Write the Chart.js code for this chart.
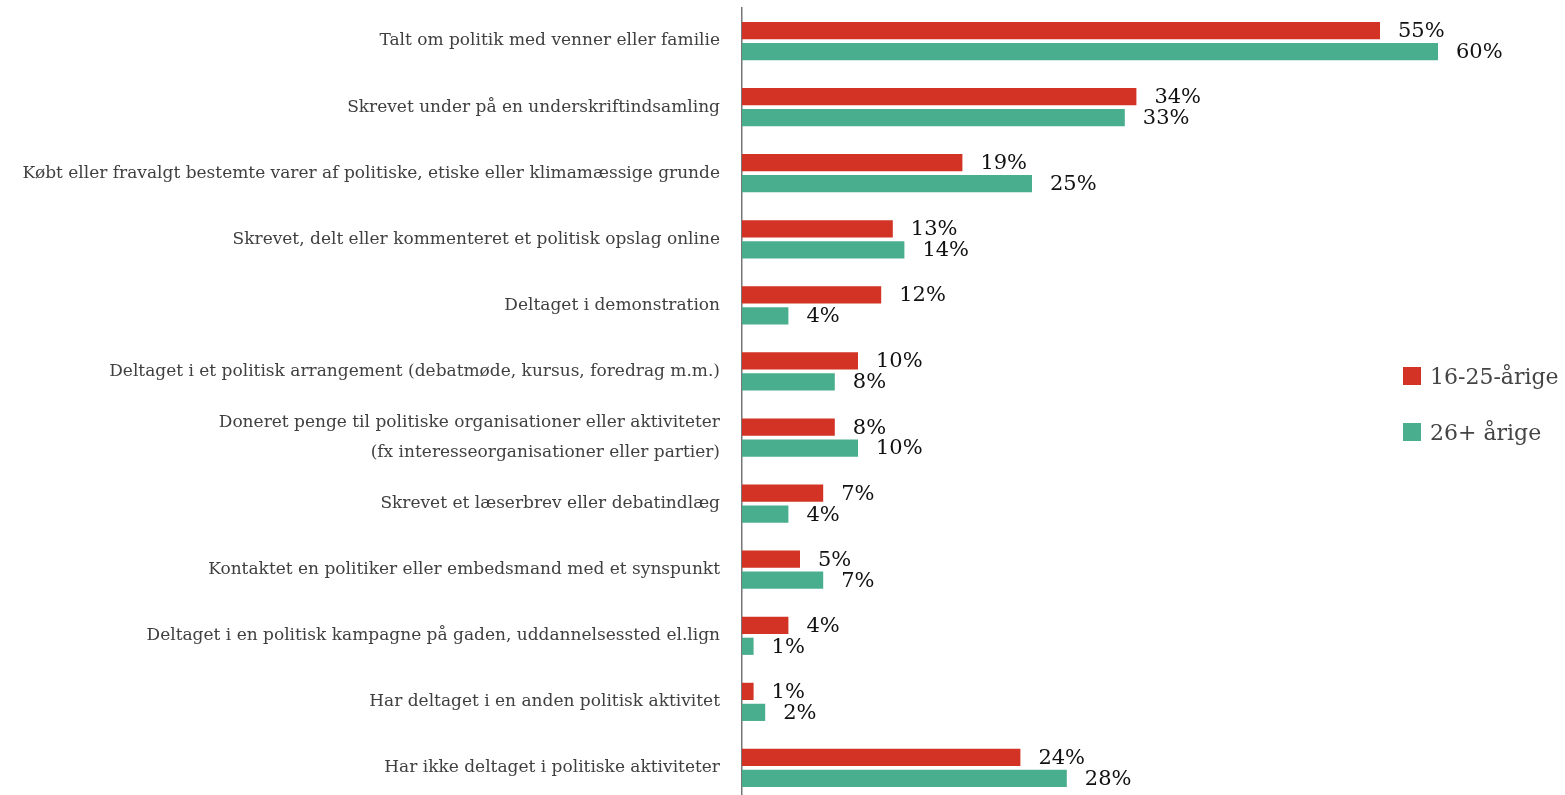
<!DOCTYPE html>
<html>
<head>
<meta charset="utf-8">
<script src="https://cdn.jsdelivr.net/npm/chart.js@4"></script>
<style>
  html, body { margin: 0; padding: 0; background: #fff; overflow: hidden; }
  #wrap { position: relative; width: 1565px; height: 801px; }
  #legende { position: absolute; left: 1403px; top: 360px; font-family: "DejaVu Serif", serif; font-size: 22px; color: #444; }
  .item { display: flex; align-items: center; height: 32px; margin-bottom: 24px; }
  .boks { width: 18px; height: 18px; margin-right: 9px; }
</style>
</head>
<body>
<div id="wrap">
  <canvas id="grafiek"></canvas>
  <div id="legende"></div>
</div>
<script>
// kategorier og værdier
const kategorier = [
  'Talt om politik med venner eller familie',
  'Skrevet under på en underskriftindsamling',
  'Købt eller fravalgt bestemte varer af politiske, etiske eller klimamæssige grunde',
  'Skrevet, delt eller kommenteret et politisk opslag online',
  'Deltaget i demonstration',
  'Deltaget i et politisk arrangement (debatmøde, kursus, foredrag m.m.)',
  ['Doneret penge til politiske organisationer eller aktiviteter', '(fx interesseorganisationer eller partier)'],
  'Skrevet et læserbrev eller debatindlæg',
  'Kontaktet en politiker eller embedsmand med et synspunkt',
  'Deltaget i en politisk kampagne på gaden, uddannelsessted el.lign',
  'Har deltaget i en anden politisk aktivitet',
  'Har ikke deltaget i politiske aktiviteter'
];
const serieNavne = ['16-25-årige', '26+ årige'];
const unge = [55, 34, 19, 13, 12, 10, 8, 7, 5, 4, 1, 24];
const aeldre = [60, 33, 25, 14, 4, 8, 10, 4, 7, 1, 2, 28];
const farver = ['#d23325', '#49ae8e'];

// værdier ved enden af søjlerne
const procentLabels = {
  id: 'procentLabels',
  afterDatasetsDraw(chart) {
    const ctx = chart.ctx;
    ctx.save();
    ctx.font = '21px "DejaVu Serif", serif';
    ctx.fillStyle = '#111';
    ctx.textBaseline = 'middle';
    chart.data.datasets.forEach(function(ds, i) {
      chart.getDatasetMeta(i).data.forEach(function(bar, j) {
        ctx.fillText(ds.data[j] + '%', bar.x + 18, bar.y + 1);
      });
    });
    ctx.restore();
  }
};

const ctx = document.getElementById('grafiek').getContext('2d');
new Chart(ctx, {
  type: 'bar',
  data: {
    labels: kategorier,
    datasets: [
      { label: serieNavne[0], data: unge, backgroundColor: farver[0], categoryPercentage: 0.635, barPercentage: 0.82 },
      { label: serieNavne[1], data: aeldre, backgroundColor: farver[1], categoryPercentage: 0.635, barPercentage: 0.82 }
    ]
  },
  options: {
    indexAxis: 'y',
    responsive: true,
    maintainAspectRatio: false,
    animation: false,
    layout: { padding: { top: 8, right: 11, bottom: 0, left: 0 } },
    plugins: { legend: { display: false }, tooltip: { enabled: false } },
    scales: {
      x: { display: false, min: 0, max: 70 },
      y: {
        grid: { display: false, drawTicks: false },
        border: { display: true, color: '#777', width: 1.5 },
        ticks: {
          color: '#404040',
          padding: 22,
          font: { family: '"DejaVu Serif", serif', size: 17, lineHeight: 1.76 }
        },
        afterFit: function(scale) {
          scale.width = 742;
          scale.paddingTop = 0;
          scale.paddingBottom = 0;
        }
      }
    }
  },
  plugins: [procentLabels]
});

// legende til højre
const legende = document.getElementById('legende');
serieNavne.forEach(function(navn, i) {
  const item = document.createElement('div');
  item.className = 'item';
  item.innerHTML = '<span class="boks" style="background:' + farver[i] + '"></span>' + navn;
  legende.appendChild(item);
});
</script>
</body>
</html>
